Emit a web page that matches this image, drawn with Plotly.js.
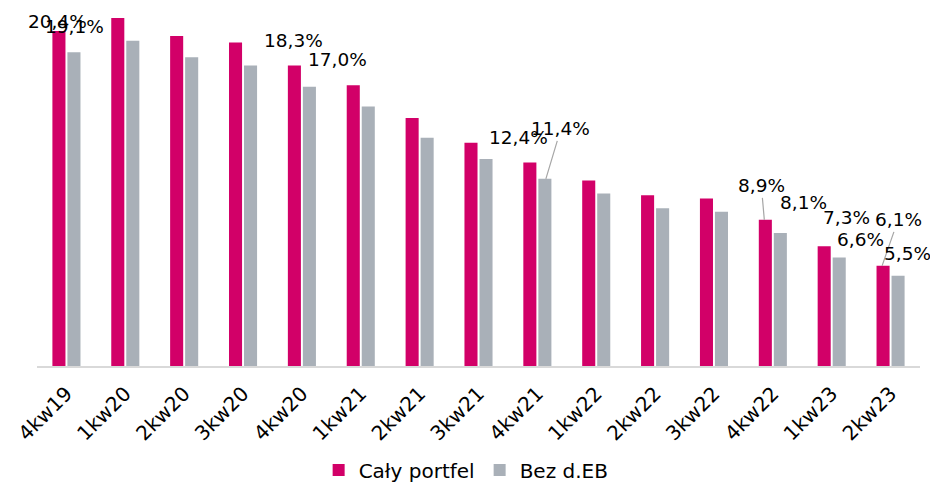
<!DOCTYPE html>
<html>
<head>
<meta charset="utf-8">
<script src="https://cdn.plot.ly/plotly-3.0.1.min.js"></script>
<style>html,body{margin:0;padding:0;background:#fff;}#chart{width:930px;height:482px;}</style>
</head>
<body>
<div id="chart"></div>
<script>
const categories = ["4kw19","1kw20","2kw20","3kw20","4kw20","1kw21","2kw21","3kw21","4kw21","1kw22","2kw22","3kw22","4kw22","1kw23","2kw23"];
const calyPortfel = [20.4,21.2,20.1,19.7,18.3,17.1,15.1,13.6,12.4,11.3,10.4,10.2,8.9,7.3,6.1];
const bezDEB      = [19.1,19.8,18.8,18.3,17.0,15.8,13.9,12.6,11.4,10.5,9.6,9.4,8.1,6.6,5.5];
const seriesNames = ["Cały portfel","Bez d.EB"];
const labeledIdx  = [0,4,8,12,13,14];

const colors = ["#D20068","#A9B0B8"];
const fmt = v => v.toFixed(1).replace(".", ",") + "%";

// label placement (pixels): [series, index, ax, ay, leaderLine]
const placement = [
  [0,0,0,-10,false],[1,0,0,-26,false],
  [0,4,0,-25,false],[1,4,27,-27,false],
  [0,8,-10,-25,false],[1,8,15,-50,true],
  [0,12,-3,-34,true],[1,12,22,-30,false],
  [0,13,23,-29,false],[1,13,20,-18,false],
  [0,14,16,-46,true],[1,14,8,-22,false]
];
const seriesVals = [calyPortfel, bezDEB];
const annotations = placement.filter(p => labeledIdx.includes(p[1])).map(p => ({
  x: categories[p[1]], y: seriesVals[p[0]][p[1]], xref: "x", yref: "y",
  xshift: p[0] === 0 ? -8.5 : 8.5,
  text: fmt(seriesVals[p[0]][p[1]]),
  showarrow: true, arrowhead: 0, arrowwidth: 1.2,
  arrowcolor: p[4] ? "#A6A6A6" : "rgba(0,0,0,0)",
  ax: p[2], ay: p[3], standoff: 0, startstandoff: 0,
  font: {family: "DejaVu Sans", size: 18.5, color: "#000"}
}));

const traces = [calyPortfel, bezDEB].map((vals, s) => ({
  type: "bar", x: categories, y: vals, name: seriesNames[s],
  marker: {color: colors[s]}, hoverinfo: "skip"
}));

const layout = {
  width: 930, height: 482,
  margin: {l: 37, r: 10, t: 10, b: 116, autoexpand: false},
  paper_bgcolor: "#fff", plot_bgcolor: "#fff",
  barmode: "group", bargap: 0.49, bargroupgap: 0.13,
  showlegend: true,
  legend: {orientation: "h", x: 0.486, xanchor: "center", y: -0.292, yanchor: "middle",
           font: {family: "DejaVu Sans", size: 20, color: "#000"}, itemwidth: 30, traceorder: "normal"},
  xaxis: {type: "category", range: [-0.5, 14.5], automargin: false, showline: true, linecolor: "#D9D9D9", linewidth: 2,
          tickangle: -45, ticks: "outside", ticklen: 6, tickcolor: "rgba(0,0,0,0)",
          tickfont: {family: "DejaVu Sans", size: 20, color: "#000"}, showgrid: false, zeroline: false},
  yaxis: {range: [0, 21.68], visible: false, showgrid: false, zeroline: false, automargin: false},
  annotations: annotations
};
Plotly.newPlot("chart", traces, layout, {staticPlot: true, displayModeBar: false});
</script>
</body>
</html>
